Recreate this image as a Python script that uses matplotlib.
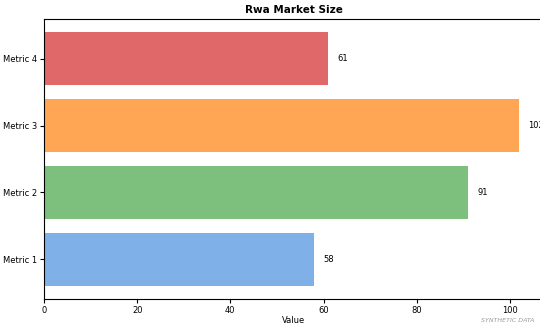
import matplotlib.pyplot as plt

categories = ["Metric 1", "Metric 2", "Metric 3", "Metric 4"]
values = [58, 91, 102, 61]
colors = ["#7fb0e8", "#7dbf7d", "#ffa654", "#e06868"]

fig = plt.figure(figsize=(5.4, 3.25), dpi=100)
ax = fig.add_axes([44 / 540, 26 / 325, 499 / 540, 280 / 325])

bars = ax.barh(categories, values, color=colors, height=0.8)
for bar, v in zip(bars, values):
    ax.text(v + 2, bar.get_y() + bar.get_height() / 2, str(v),
            va="center", ha="left", fontsize=6)

ax.set_title("Rwa Market Size", fontsize=7.5, fontweight="bold", pad=4)
ax.set_xlabel("Value", fontsize=6, labelpad=1)
ax.tick_params(labelsize=6, length=3, pad=2)

fig.text(0.99, 0.005, "SYNTHETIC DATA", ha="right", va="bottom",
         fontsize=4.5, style="italic", color="#999999")

fig.savefig("out.png", dpi=100)
